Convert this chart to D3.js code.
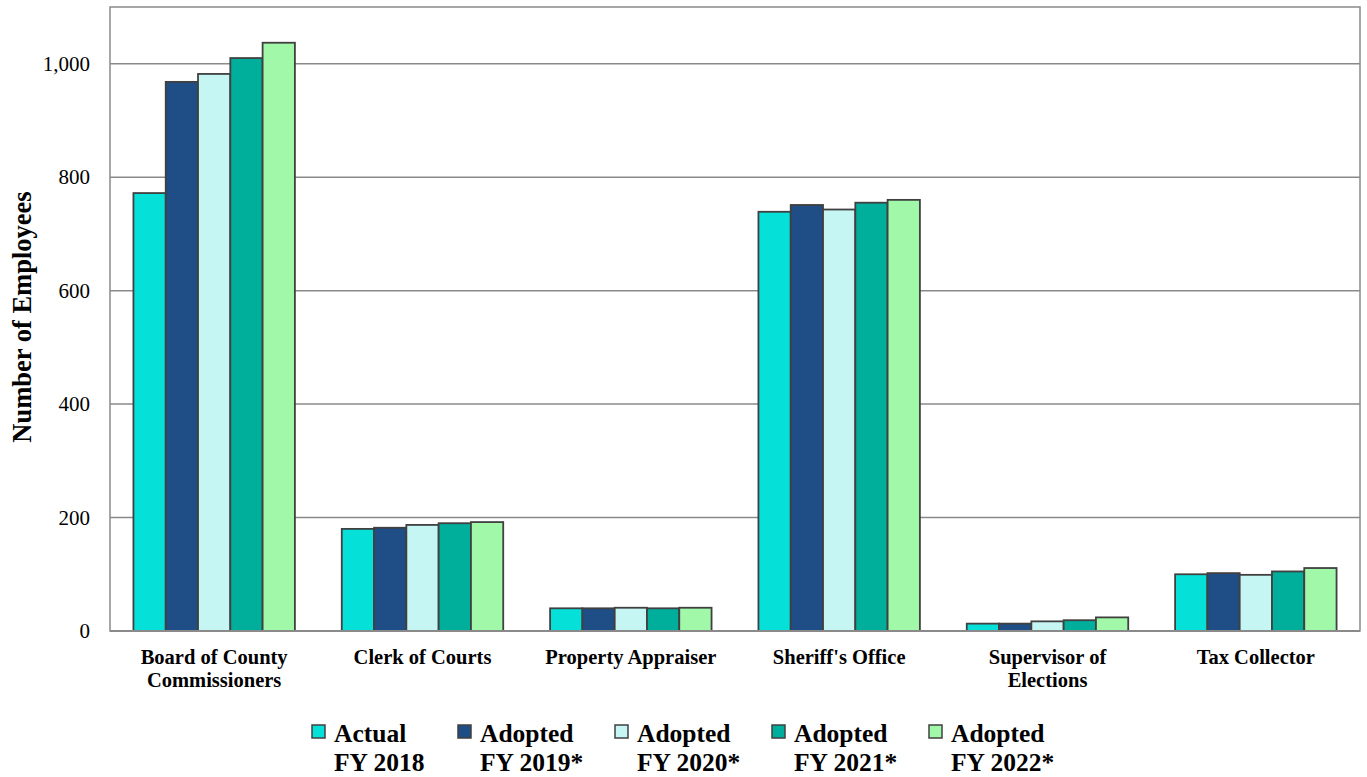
<!DOCTYPE html>
<html>
<head>
<meta charset="utf-8">
<script src="https://cdn.jsdelivr.net/npm/d3@7"></script>
<style>
  body { margin: 0; background: #fff; }
  svg { display: block; font-family: "Liberation Serif", "Times New Roman", serif; }
</style>
</head>
<body>
<svg id="chart" width="1367" height="777"></svg>
<script>
// Categories and series
const categories = [
  ["Board of County", "Commissioners"],
  ["Clerk of Courts"],
  ["Property Appraiser"],
  ["Sheriff's Office"],
  ["Supervisor of", "Elections"],
  ["Tax Collector"]
];
const seriesNames = [
  ["Actual", "FY 2018"],
  ["Adopted", "FY 2019*"],
  ["Adopted", "FY 2020*"],
  ["Adopted", "FY 2021*"],
  ["Adopted", "FY 2022*"]
];
const actual2018  = [772, 180, 40, 739, 13, 100];
const adopted2019 = [968, 182, 40, 751, 13, 102];
const adopted2020 = [982, 187, 41, 743, 17, 99];
const adopted2021 = [1010, 190, 40, 755, 19, 105];
const adopted2022 = [1037, 192, 41, 760, 24, 111];
const yTicks = [0, 200, 400, 600, 800, 1000];
const colors = ["#05E1D9", "#1F4E87", "#C6F6F4", "#00AE9C", "#A0F8A8"];

const series = [actual2018, adopted2019, adopted2020, adopted2021, adopted2022];

const svg = d3.select("#chart");
const m = { left: 110, right: 1360, top: 7, bottom: 631 };

const x = d3.scaleBand()
  .domain(d3.range(categories.length))
  .range([m.left, m.right])
  .paddingInner(0.225)
  .paddingOuter(0.1125);
const xs = d3.scaleBand()
  .domain(d3.range(series.length))
  .range([0, x.bandwidth()]);
const y = d3.scaleLinear().domain([0, 1100]).range([m.bottom, m.top]);

// Gridlines
svg.append("g")
  .selectAll("line")
  .data(yTicks.filter(d => d > 0))
  .join("line")
  .attr("x1", m.left).attr("x2", m.right)
  .attr("y1", d => y(d)).attr("y2", d => y(d))
  .attr("stroke", "#8a8a8a").attr("stroke-width", 1.5);

// Plot frame
svg.append("rect")
  .attr("x", m.left).attr("y", m.top)
  .attr("width", m.right - m.left).attr("height", m.bottom - m.top)
  .attr("fill", "none").attr("stroke", "#8a8a8a").attr("stroke-width", 1.5);

// Bars
const groups = svg.append("g")
  .selectAll("g")
  .data(series)
  .join("g")
  .attr("fill", (d, i) => colors[i]);

groups.selectAll("rect")
  .data((vals, si) => vals.map((v, ci) => ({ v, ci, si })))
  .join("rect")
  .attr("x", d => x(d.ci) + xs(d.si))
  .attr("y", d => y(d.v))
  .attr("width", xs.bandwidth())
  .attr("height", d => y(0) - y(d.v))
  .attr("stroke", "#404040")
  .attr("stroke-width", 1.8);

// Baseline
svg.append("line")
  .attr("x1", m.left).attr("x2", m.right)
  .attr("y1", y(0)).attr("y2", y(0))
  .attr("stroke", "#8a8a8a").attr("stroke-width", 2);

// Y axis labels
const yAxis = d3.axisLeft(y).tickValues(yTicks).tickSize(0).tickPadding(20)
  .tickFormat(d3.format(","));
const ya = svg.append("g").attr("transform", `translate(${m.left},0)`).call(yAxis);
ya.select(".domain").remove();
ya.selectAll("text")
  .attr("font-family", "Liberation Serif, serif")
  .attr("font-size", 21).attr("fill", "#000").attr("dy", "0.32em");

// Y title
svg.append("text")
  .attr("transform", `translate(31,317) rotate(-90)`)
  .attr("text-anchor", "middle")
  .attr("font-weight", "bold").attr("font-size", 26.5)
  .text("Number of Employees");

// Category labels
const xl = svg.append("g");
categories.forEach((lines, i) => {
  const cx = x(i) + x.bandwidth() / 2;
  const t = xl.append("text")
    .attr("x", cx)
    .attr("y", 664)
    .attr("text-anchor", "middle")
    .attr("font-weight", "bold").attr("font-size", 20.5);
  lines.forEach((ln, k) => {
    t.append("tspan").attr("x", cx).attr("dy", k === 0 ? 0 : 23).text(ln);
  });
});

// Legend: swatch plus two-line label
const legendX = [312, 458, 615, 772, 929];
const lg = svg.append("g");
seriesNames.forEach((name, i) => {
  const g = lg.append("g").attr("transform", `translate(${legendX[i]},0)`);
  g.append("rect")
    .attr("x", 0).attr("y", 725)
    .attr("width", 13).attr("height", 13)
    .attr("fill", colors[i]).attr("stroke", "#404040").attr("stroke-width", 1.5);
  [[name[0], 742], [name[1], 771]].forEach(([txt, by]) => {
    g.append("text")
      .attr("x", 22).attr("y", by)
      .attr("font-weight", "bold").attr("font-size", 25.5)
      .text(txt);
  });
});
</script>
</body>
</html>
